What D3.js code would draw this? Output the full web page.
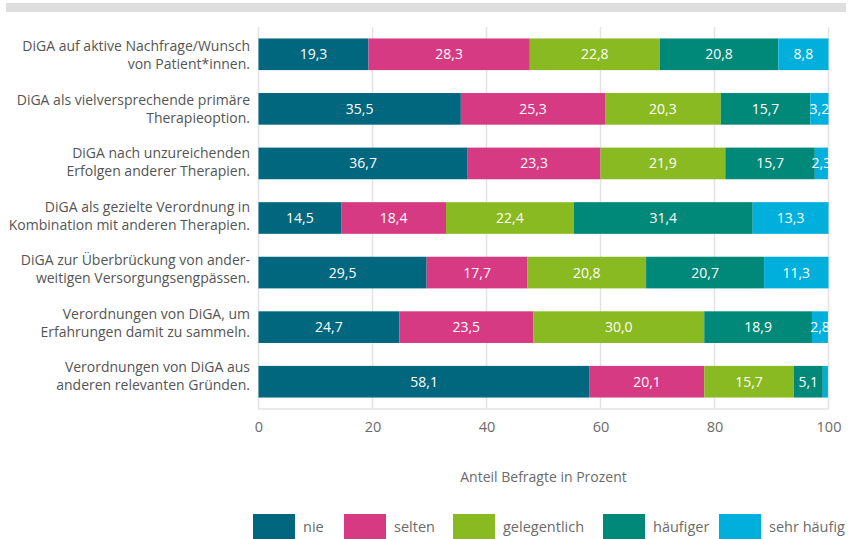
<!DOCTYPE html>
<html>
<head>
<meta charset="utf-8">
<script src="https://cdn.jsdelivr.net/npm/d3@7"></script>
<style>
  body { margin: 0; background: #fff; }
  svg { display: block; font-family: "Open Sans", sans-serif; }
</style>
</head>
<body>
<div id="chart"></div>
<script>
// ===============================
// Data
// ===============================
const categories = [
  ["DiGA auf aktive Nachfrage/Wunsch", "von Patient*innen."],
  ["DiGA als vielversprechende primäre", "Therapieoption."],
  ["DiGA nach unzureichenden", "Erfolgen anderer Therapien."],
  ["DiGA als gezielte Verordnung in", "Kombination mit anderen Therapien."],
  ["DiGA zur Überbrückung von ander-", "weitigen Versorgungsengpässen."],
  ["Verordnungen von DiGA, um", "Erfahrungen damit zu sammeln."],
  ["Verordnungen von DiGA aus", "anderen relevanten Gründen."]
];
const seriesNames = ["nie", "selten", "gelegentlich", "häufiger", "sehr häufig"];
const nie          = [19.3, 35.5, 36.7, 14.5, 29.5, 24.7, 58.1];
const selten       = [28.3, 25.3, 23.3, 18.4, 17.7, 23.5, 20.1];
const gelegentlich = [22.8, 20.3, 21.9, 22.4, 20.8, 30.0, 15.7];
const haeufiger    = [20.8, 15.7, 15.7, 31.4, 20.7, 18.9, 5.1];
const sehrHaeufig  = [8.8, 3.2, 2.3, 13.3, 11.3, 2.8, 0.9];
const xTicks = [0, 20, 40, 60, 80, 100];

const colors = ["#00677f", "#d63a82", "#8aba21", "#008878", "#00afdb"];

// ===============================
// Layout
// ===============================
const W = 850, H = 539;
const plot = { left: 258.5, right: 828.5, top: 27, bottom: 409 };

const rows = categories.map((c, i) => ({
  idx: i,
  nie: nie[i], selten: selten[i], gelegentlich: gelegentlich[i],
  "häufiger": haeufiger[i], "sehr häufig": sehrHaeufig[i]
}));
const stacked = d3.stack().keys(seriesNames)(rows);

const x = d3.scaleLinear().domain([0, 100]).range([plot.left, plot.right]);
const y = d3.scaleBand().domain(d3.range(categories.length))
  .range([plot.top, plot.bottom]).paddingInner(0.42).paddingOuter(0.21);
// category labels sit on a slightly tighter spacing than the bars
const yLabel = d3.scalePoint().domain(d3.range(categories.length)).range([55, 376]);
const color = d3.scaleOrdinal().domain(seriesNames).range(colors);

const svg = d3.select("#chart").append("svg")
  .attr("width", W).attr("height", H);

// top grey band
svg.append("rect")
  .attr("x", 6).attr("y", 3).attr("width", 840).attr("height", 9)
  .attr("fill", "#dedede");

// grid lines
svg.append("g")
  .selectAll("line")
  .data(xTicks)
  .join("line")
  .attr("x1", d => x(d)).attr("x2", d => x(d))
  .attr("y1", plot.top).attr("y2", plot.bottom)
  .attr("stroke", "#e3e3e3").attr("stroke-width", 1.5);

svg.append("line")
  .attr("x1", plot.left).attr("x2", plot.right)
  .attr("y1", plot.bottom).attr("y2", plot.bottom)
  .attr("stroke", "#e3e3e3").attr("stroke-width", 1.5);

// x axis
const xAxis = d3.axisBottom(x).tickValues(xTicks).tickSize(0).tickPadding(0);
svg.append("g")
  .attr("transform", `translate(0,${plot.bottom + 13})`)
  .call(xAxis)
  .call(g => g.select(".domain").remove())
  .call(g => g.selectAll("text")
    .attr("fill", "#6b6b6b").attr("font-size", 14.5)
    .attr("font-family", "Open Sans, sans-serif"));

svg.append("text")
  .attr("x", (plot.left + plot.right) / 2).attr("y", 482)
  .attr("text-anchor", "middle")
  .attr("fill", "#6b6b6b").attr("font-size", 14)
  .text("Anteil Befragte in Prozent");

// bars
const layer = svg.append("g").selectAll("g")
  .data(stacked)
  .join("g")
  .attr("fill", d => color(d.key));

layer.selectAll("rect")
  .data(d => d)
  .join("rect")
  .attr("x", d => x(d[0]))
  .attr("y", d => y(d.data.idx))
  .attr("width", d => x(d[1]) - x(d[0]))
  .attr("height", y.bandwidth());

// value labels
const fmt = v => v.toFixed(1).replace(".", ",");
svg.append("g").selectAll("g")
  .data(stacked)
  .join("g")
  .selectAll("text")
  .data(d => d.filter(p => p[1] - p[0] >= 2))
  .join("text")
  .attr("x", d => (x(d[0]) + x(d[1])) / 2)
  .attr("y", d => y(d.data.idx) + y.bandwidth() / 2)
  .attr("dy", "0.36em")
  .attr("text-anchor", "middle")
  .attr("fill", "#fff").attr("font-size", 14)
  .text(d => fmt(d[1] - d[0]));

// category labels
const catG = svg.append("g").selectAll("text")
  .data(categories)
  .join("text")
  .attr("text-anchor", "end")
  .attr("fill", "#555").attr("font-size", 14)
  .attr("transform", (d, i) => `translate(250,${yLabel(i)})`);
catG.selectAll("tspan")
  .data(d => d)
  .join("tspan")
  .attr("x", 0)
  .attr("y", (d, j) => (j === 0 ? -4 : 14))
  .text(d => d);

// legend
const legendX = [253, 344, 453, 603, 719];
const legend = svg.append("g").selectAll("g")
  .data(seriesNames)
  .join("g")
  .attr("transform", (d, i) => `translate(${legendX[i]},514)`);
legend.append("rect")
  .attr("width", 42).attr("height", 25)
  .attr("fill", d => color(d));
legend.append("text")
  .attr("x", 50).attr("y", 13).attr("dy", "0.36em")
  .attr("fill", "#6b6b6b").attr("font-size", 14.5)
  .text(d => d);
</script>
</body>
</html>
